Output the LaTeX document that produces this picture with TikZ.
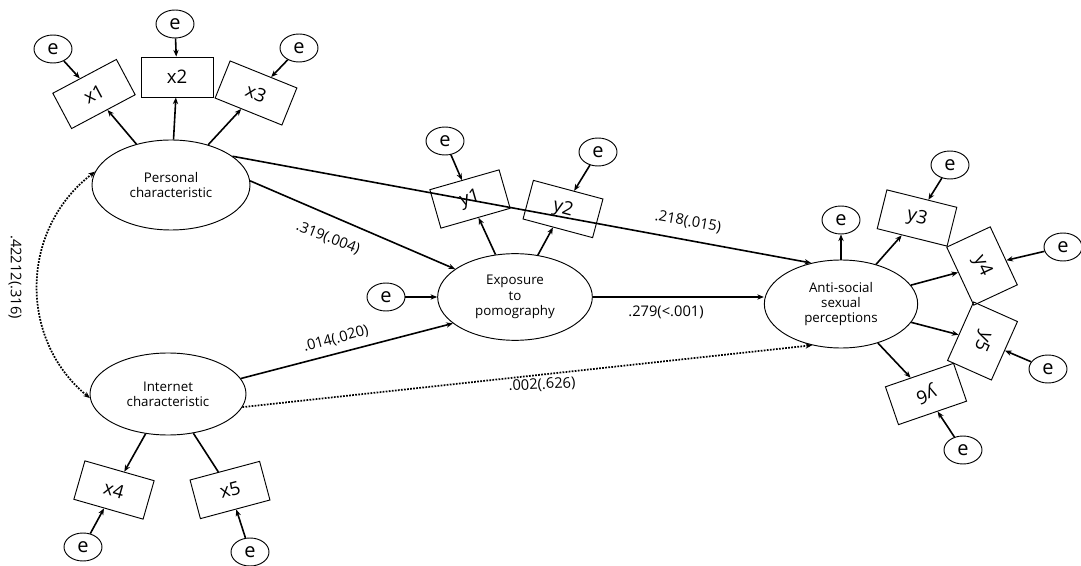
\documentclass[tikz,border=0pt]{standalone}
\usepackage{fontspec}
\setmainfont{Open Sans}
\usetikzlibrary{shapes.geometric,arrows.meta}
\begin{document}
\begin{tikzpicture}[x=0.75pt,y=-0.75pt,
  lat/.style={ellipse, draw, line width=0.7pt, inner sep=0pt, align=center, font=\fontsize{10}{11.5}\selectfont},
  obs/.style={rectangle, draw, line width=0.7pt, minimum width=54pt, minimum height=30pt, inner sep=0pt, font=\fontsize{14}{16}\selectfont},
  obsw/.style={obs, minimum width=48pt, minimum height=36pt},
  err/.style={ellipse, draw, line width=0.7pt, minimum width=28.5pt, minimum height=21pt, inner sep=0pt, font=\fontsize{15}{16}\selectfont},
  arr/.style={line width=1.2pt, -{Stealth[length=5pt,width=4pt]}},
  plain/.style={line width=1.2pt},
  dotarr/.style={line width=1.3pt, densely dotted, -{Stealth[length=5pt,width=4pt]}},
  dotarr2/.style={line width=1.3pt, densely dotted, {Stealth[length=5pt,width=4pt]}-{Stealth[length=5pt,width=4pt]}},
  lbl/.style={font=\fontsize{11}{12}\selectfont, inner sep=1pt}
]
\useasboundingbox (0,0) rectangle (1081,566);

% latent variables
\node[lat, minimum width=118.5pt, minimum height=67.5pt] (P) at (171,185) {Personal\\characteristic};
\node[lat, minimum width=117pt, minimum height=61.5pt] (I) at (168,394) {Internet\\characteristic};
\node[lat, minimum width=116pt, minimum height=65pt] (E) at (515,297) {Exposure\\to\\pomography};
\node[lat, minimum width=115pt, minimum height=66pt] (A) at (841,304) {Anti-social\\sexual\\perceptions};

% observed
\node[obs, rotate=28] (x1) at (94,94) {x1};
\node[obs] (x2) at (177,77) {x2};
\node[obs, rotate=-22] (x3) at (256,93) {x3};
\node[obs, rotate=16] (y1) at (470,199) {y1};
\node[obs, rotate=-15] (y2) at (563,209) {y2};
\node[obs, rotate=-14] (y3) at (917,218) {y3};
\node[obsw, rotate=-65] (y4) at (982,266) {y4};
\node[obsw, rotate=-114] (y5) at (982.5,341) {y5};
\node[obs, rotate=-161] (y6) at (926,394) {y6};
\node[obs, rotate=-16] (x4) at (114,490) {x4};
\node[obs, rotate=15] (x5) at (230,490) {x5};

% errors
\node[err] (ex1) at (53,49) {e};
\node[err] (ex2) at (175,24) {e};
\node[err] (ex3) at (299,48) {e};
\node[err] (ey1) at (445,141) {e};
\node[err] (ey2) at (598,152) {e};
\node[err] (eE) at (386,297) {e};
\node[err] (eA) at (841,220) {e};
\node[err] (ey3) at (950,165) {e};
\node[err] (ey4) at (1063,247) {e};
\node[err] (ey5) at (1048,369) {e};
\node[err] (ey6) at (963,450) {e};
\node[err] (ex4) at (83,547) {e};
\node[err] (ex5) at (250,552) {e};

% error arrows
\foreach \e/\t in {ex1/x1, ex2/x2, ex3/x3, ey1/y1, ey2/y2, ey3/y3, ey4/y4, ey5/y5, ey6/y6, ex4/x4, ex5/x5}
  \draw[arr] (\e) -- (\t);
\draw[arr] (eE) -- (E);
\draw[arr] (A) -- (eA);

% loadings
\foreach \t in {x1,x2,x3} \draw[arr] (P) -- (\t);
\foreach \t in {y1,y2} \draw[arr] (E) -- (\t);
\foreach \t in {y3,y4,y5,y6} \draw[arr] (A) -- (\t);
\draw[arr] (I) -- (x4);
\draw[plain] (I) -- (x5);

% structural paths
\draw[arr] (P.3) -- (E.155);
\draw[arr] (P.25) -- (A.126);
\draw[arr] (I.12) -- (E.203);
\draw[arr] (E.east) -- (E.east -| A.west);
\draw[dotarr] (I.350) -- (A.235);
\draw[dotarr2] (P.170) .. controls (19,230) and (19,340) .. (I.183);

% labels
\node[lbl, rotate=-21] (l1) at (328,238) {.319(.004)};
\node[lbl, rotate=-10] (l2) at (688,222) {.218(.015)};
\node[lbl, rotate=15] (l3) at (336,339) {.014(.020)};
\node[lbl, rotate=3] (l4) at (542,385) {.002(.626)};
\node[lbl] (l5) at (666,312) {.279(<.001)};
\node[lbl, rotate=-90] (l6) at (15,277) {.42212(.316)};
\end{tikzpicture}
\end{document}
